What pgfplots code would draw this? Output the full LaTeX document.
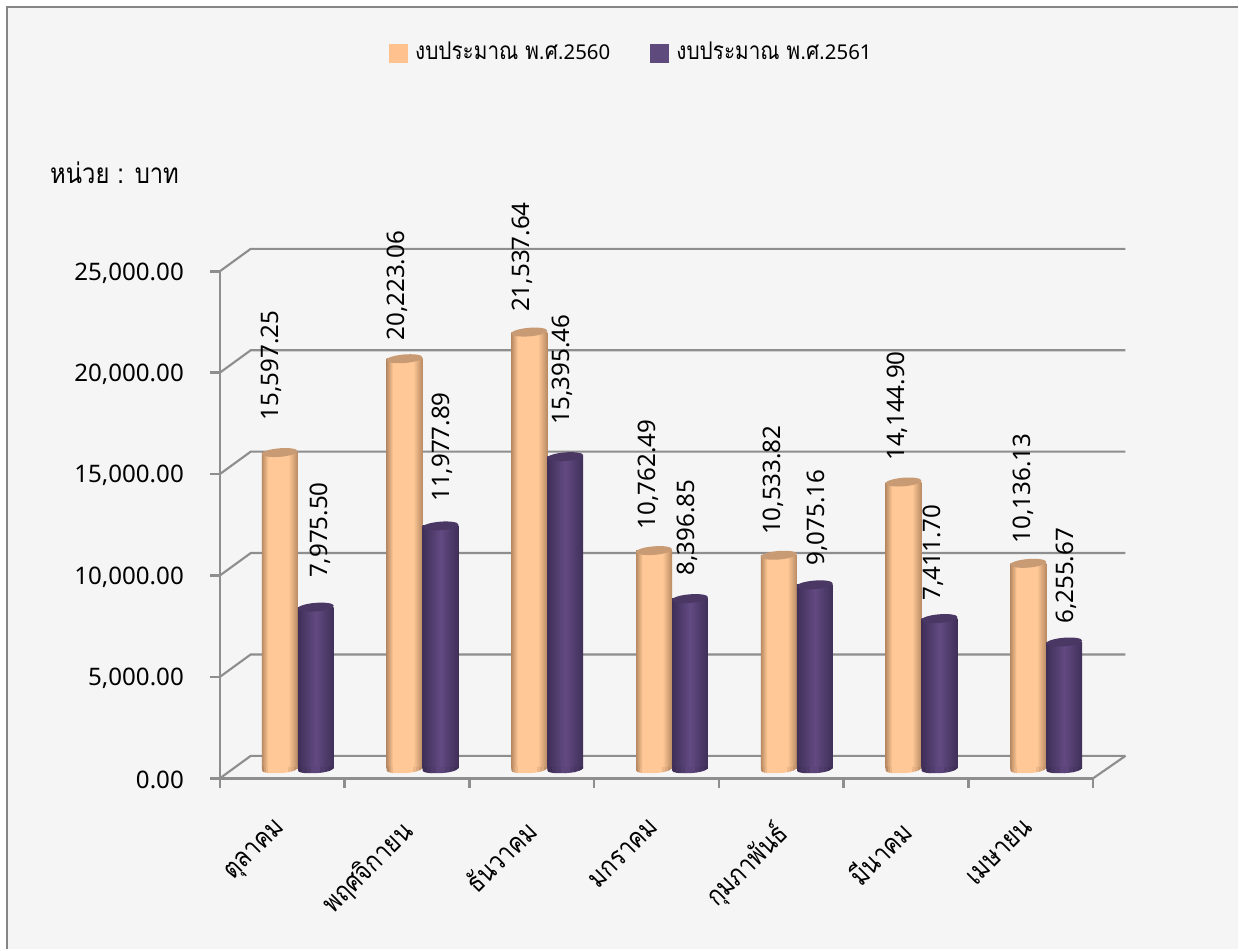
\documentclass[border=0pt]{standalone}
\usepackage{fontspec}
\setmainfont{Noto Sans}
\newfontfamily\thaifont[Script=Thai,FakeStretch=0.85]{Loma}
\usepackage{pgfplots}
\usepackage{pgfplotstable}
\pgfplotsset{compat=1.18}

% 1 px of the reference = 0.75pt
\definecolor{bg}{HTML}{F5F5F5}
\definecolor{frame}{HTML}{858585}
\definecolor{wall}{HTML}{8E8E8E}
\definecolor{orangeCap}{HTML}{C99B74}
\definecolor{purpleCap}{HTML}{4A3763}
\definecolor{orangeMid}{HTML}{FFC896}
\definecolor{orangeEdge}{HTML}{B88A63}
\definecolor{purpleMid}{HTML}{624A82}
\definecolor{purpleEdge}{HTML}{3F2F58}
\definecolor{orangeKey}{HTML}{FFC28F}
\definecolor{purpleKey}{HTML}{5F4A7D}

\pgfdeclarehorizontalshading{orangebar}{100bp}{
  color(0bp)=(orangeEdge); color(25bp)=(orangeEdge); color(34bp)=(orangeMid);
  color(62bp)=(orangeMid); color(75bp)=(orangeEdge); color(100bp)=(orangeEdge)}
\pgfdeclarehorizontalshading{purplebar}{100bp}{
  color(0bp)=(purpleEdge); color(25bp)=(purpleEdge); color(50bp)=(purpleMid);
  color(75bp)=(purpleEdge); color(100bp)=(purpleEdge)}

\pgfdeclareplotmark{orangecap}{%
  \pgfsetfillcolor{orangeCap}%
  \pgfpathellipse{\pgfpointorigin}{\pgfpoint{13.5pt}{1.1pt}}{\pgfpoint{-0.3pt}{3.2pt}}%
  \pgfusepathqfill}
\pgfdeclareplotmark{purplecap}{%
  \pgfsetfillcolor{purpleCap}%
  \pgfpathellipse{\pgfpointorigin}{\pgfpoint{13.5pt}{1.1pt}}{\pgfpoint{-0.3pt}{3.2pt}}%
  \pgfusepathqfill}

% rounded foot of a bar: lower half of the ellipse, cut from vertical strips
\newcommand{\footclip}{%
  \pgfpathmoveto{\pgfpoint{-13.5pt}{1.5pt}}%
  \pgfpathlineto{\pgfpoint{-13.5pt}{-1.1pt}}%
  \pgfpathcurveto{\pgfpoint{-13.5pt}{-3pt}}{\pgfpoint{-8pt}{-3.5pt}}{\pgfpoint{-0.5pt}{-3.2pt}}%
  \pgfpathcurveto{\pgfpoint{7pt}{-3pt}}{\pgfpoint{13.5pt}{-1.2pt}}{\pgfpoint{13.5pt}{1.1pt}}%
  \pgfpathlineto{\pgfpoint{13.5pt}{1.5pt}}%
  \pgfpathclose\pgfusepath{clip}}
\newcommand{\strip}[3]{%
  \pgfsetfillcolor{#3}%
  \pgfpathrectangle{\pgfpoint{#1pt}{-6pt}}{\pgfpoint{#2pt}{12pt}}\pgfusepath{fill}}
\pgfdeclareplotmark{orangebase}{%
  \begin{pgfscope}\footclip
  \strip{-13.6}{1.8}{orangeEdge}\strip{-12}{1.8}{orangeMid!35!orangeEdge}%
  \strip{-10.4}{1.8}{orangeMid!70!orangeEdge}\strip{-8.8}{14.8}{orangeMid}%
  \strip{6}{2.6}{orangeMid!75!orangeEdge}\strip{8.4}{2.6}{orangeMid!50!orangeEdge}%
  \strip{10.8}{3}{orangeMid!15!orangeEdge}%
  \end{pgfscope}}
\pgfdeclareplotmark{purplebase}{%
  \begin{pgfscope}\footclip
  \strip{-13.6}{3.6}{purpleEdge}\strip{-10.2}{3.6}{purpleMid!25!purpleEdge}%
  \strip{-6.8}{3.6}{purpleMid!50!purpleEdge}\strip{-3.4}{3.6}{purpleMid!80!purpleEdge}%
  \strip{0}{3.6}{purpleMid!80!purpleEdge}\strip{3.4}{3.6}{purpleMid!50!purpleEdge}%
  \strip{6.8}{3.6}{purpleMid!25!purpleEdge}\strip{10.2}{3.6}{purpleEdge}%
  \end{pgfscope}}

% x, value, label offset from the top of the bar (px)
\pgfplotstableread{
x   y        dx  dy
0.5 15597.25 -10 36
1.5 20223.06 -9  22
2.5 21537.64 -9  24
3.5 10762.49 -8  25
4.5 10533.82 -7  24
5.5 14144.90 -8  25
6.5 10136.13 -7  24
}\budgetA
\pgfplotstableread{
x   y        dx  dy
0.5 7975.50  3   33
1.5 11977.89 0   28
2.5 15395.46 -5  36
3.5 8396.85  -5  27
4.5 9075.16  1   23
5.5 7411.70  -8  22
6.5 6255.67  0   22
}\budgetB

\newcommand{\numfont}{\fontsize{18.1}{20}\selectfont}
\newcommand{\legendtext}[1]{\raisebox{2pt}{\fontsize{18.3}{20}\selectfont\thaifont งบประมาณ พ.ศ.{\fontsize{15.3}{18}\selectfont\rmfamily #1}}}

% one addplot for each bar, so that each bar gets its own shading
\newcommand{\cylinders}[3]{%
  \pgfplotsinvokeforeach{0,...,6}{%
    \addplot[ybar,bar width=27pt,bar shift=0pt,draw=none,shade,shading=#1,xshift=#2,yshift=7.1pt,forget plot,
      skip coords between index={0}{##1},skip coords between index={\the\numexpr##1+1\relax}{7}]
      table[x=x,y=y] {#3};
  }}

\begin{document}
\begin{tikzpicture}
\fill[white] (0pt,0pt) rectangle (929.25pt,-712.5pt);
\fill[bg] (5pt,-5.5pt) rectangle (929.25pt,-712.5pt);
\draw[frame,line width=1.6pt] (5pt,-712.5pt) -- (5pt,-5.5pt) -- (929.25pt,-5.5pt);
\node[anchor=west,inner sep=0pt,font=\fontsize{21}{24}\selectfont\thaifont] at (37.5pt,-130pt) {หน่วย : บาท};

\begin{axis}[
  at={(165pt,-584.25pt)}, anchor=south west,
  scale only axis, width=655.5pt, height=380.6pt,
  xmin=0, xmax=7, ymin=0, ymax=25000,
  clip=false,
  axis lines=left,
  axis line style={wall,line width=1.9pt,-},
  tick style={wall,line width=1.9pt},
  tick align=outside,
  major tick length=7.5pt,
  xtick={0,1,2,3,4,5,6,7},
  xticklabels={},
  extra x ticks={0.5,1.5,2.5,3.5,4.5,5.5,6.5},
  extra x tick style={tick style={draw=none}},
  extra x tick labels={ตุลาคม,พฤศจิกายน,ธันวาคม,มกราคม,กุมภาพันธ์,มีนาคม,เมษายน},
  xticklabel style={rotate=45,anchor=north east,font=\fontsize{20.5}{24}\selectfont\thaifont,xshift=-16.6pt,yshift=-7.9pt},
  ytick={0,5000,10000,15000,20000,25000},
  yticklabel style={font=\numfont,xshift=-16pt,yshift=-1.2pt},
  scaled y ticks=false,
  /pgf/number format/.cd,fixed,fixed zerofill,precision=2,1000 sep={,},assume math mode=true,
  /pgfplots/.cd,
  legend columns=2,
  legend style={at={(0.4714,1.431)},anchor=center,draw=none,fill=none,
    /tikz/every odd column/.style={column sep=4pt},
    /tikz/every even column/.style={column sep=27.75pt}},
  legend image code/.code={\fill[#1] (0pt,-6.75pt) rectangle (13.5pt,6.75pt);},
  legend cell align=left,
]
\addlegendimage{orangeKey,fill=orangeKey}
\addlegendentry{\legendtext{2560}}
\addlegendimage{purpleKey,fill=purpleKey}
\addlegendentry{\legendtext{2561}}

% back wall and floor
\addplot[wall,line width=1.6pt,forget plot] coordinates {(0,0) (0.248,1109) (7.26,1109)};
\addplot[wall,line width=1.6pt,forget plot] coordinates {(7,0) (7.26,1109)};
\addplot[wall,line width=1.6pt,forget plot] coordinates {(0,5000) (0.248,6109) (7.26,6109)};
\addplot[wall,line width=1.6pt,forget plot] coordinates {(0,10000) (0.248,11109) (7.26,11109)};
\addplot[wall,line width=1.6pt,forget plot] coordinates {(0,15000) (0.248,16109) (7.26,16109)};
\addplot[wall,line width=1.6pt,forget plot] coordinates {(0,20000) (0.248,21109) (7.26,21109)};
\addplot[wall,line width=1.6pt,forget plot] coordinates {(0,25000) (0.248,26109) (7.26,26109)};

% orange series
\addplot[only marks,mark=orangebase,xshift=-1.8pt,yshift=7.1pt,forget plot] table[x=x,y expr=0] {\budgetA};
\cylinders{orangebar}{-1.8pt}{\budgetA}
% purple series
\addplot[only marks,mark=purplebase,xshift=25.2pt,yshift=7.1pt,forget plot] table[x=x,y expr=0] {\budgetB};
\cylinders{purplebar}{25.2pt}{\budgetB}

% caps and value labels
\addplot[only marks,mark=orangecap,xshift=-1.8pt,yshift=7.1pt,forget plot,
  visualization depends on={\thisrow{dx} \as \labdx},
  visualization depends on={\thisrow{dy} \as \labdy},
  nodes near coords,
  every node near coord/.append style={font=\numfont,text=black,inner sep=0pt,anchor=west,
    xshift=0.75pt*\labdx+1.5pt,yshift=0.75pt*\labdy-3pt,rotate=90}] table[x=x,y=y] {\budgetA};
\addplot[only marks,mark=purplecap,xshift=25.2pt,yshift=7.1pt,forget plot,
  visualization depends on={\thisrow{dx} \as \labdx},
  visualization depends on={\thisrow{dy} \as \labdy},
  nodes near coords,
  every node near coord/.append style={font=\numfont,text=black,inner sep=0pt,anchor=west,
    xshift=0.75pt*\labdx+1.5pt,yshift=0.75pt*\labdy-3pt,rotate=90}] table[x=x,y=y] {\budgetB};
\end{axis}
\end{tikzpicture}
\end{document}
